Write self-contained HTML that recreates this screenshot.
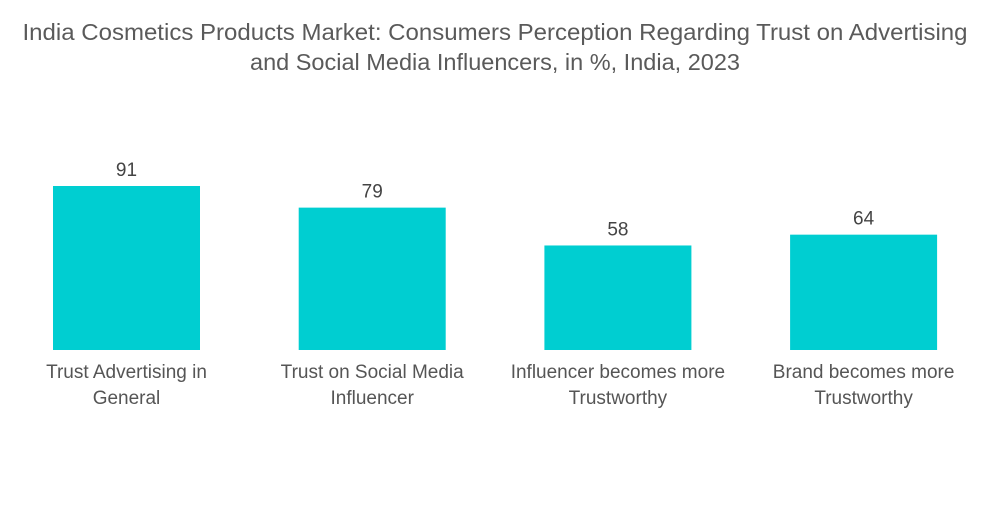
<!DOCTYPE html>
<html><head><meta charset="utf-8"><style>
body{margin:0;background:#fff;width:1000px;height:504px;overflow:hidden;font-family:"Liberation Sans",sans-serif}
</style></head><body>
<svg width="1000" height="504">
<text x="495" y="40" text-anchor="middle" font-size="23" textLength="945" lengthAdjust="spacingAndGlyphs" fill="#5a5a5a">India Cosmetics Products Market: Consumers Perception Regarding Trust on Advertising</text>
<text x="495" y="70" text-anchor="middle" font-size="23" textLength="490" lengthAdjust="spacingAndGlyphs" fill="#5a5a5a">and Social Media Influencers, in %, India, 2023</text>
<g id="bars"></g>
</svg>
<script>
const categories=[["Trust Advertising in","General"],["Trust on Social Media","Influencer"],["Influencer becomes more","Trustworthy"],["Brand becomes more","Trustworthy"]];
const values=[91,79,58,64];
const ns="http://www.w3.org/2000/svg";
const g=document.getElementById('bars');
const baseY=350, pxPer=164/91, x0=53, step=245.7, bw=147;
function y(v){return baseY-v*pxPer;}
values.forEach((v,i)=>{
  const x=x0+i*step;
  const r=document.createElementNS(ns,'rect');
  r.setAttribute('x',x);r.setAttribute('y',y(v));r.setAttribute('width',bw);r.setAttribute('height',baseY-y(v));r.setAttribute('fill','#00ced1');
  
  
  g.appendChild(r);
  const t=document.createElementNS(ns,'text');
  t.setAttribute('x',x+bw/2);t.setAttribute('y',y(v)-10);t.setAttribute('text-anchor','middle');t.setAttribute('font-size','19');t.setAttribute('fill','#444');
  t.textContent=v;
  
  
  g.appendChild(t);
  categories[i].forEach((line,j)=>{
    const c=document.createElementNS(ns,'text');
    c.setAttribute('x',x+bw/2);c.setAttribute('y',378+j*26);c.setAttribute('text-anchor','middle');c.setAttribute('font-size','19');c.setAttribute('fill','#555');
    c.textContent=line;
    
    
    g.appendChild(c);
  });
});
</script>
</body></html>
